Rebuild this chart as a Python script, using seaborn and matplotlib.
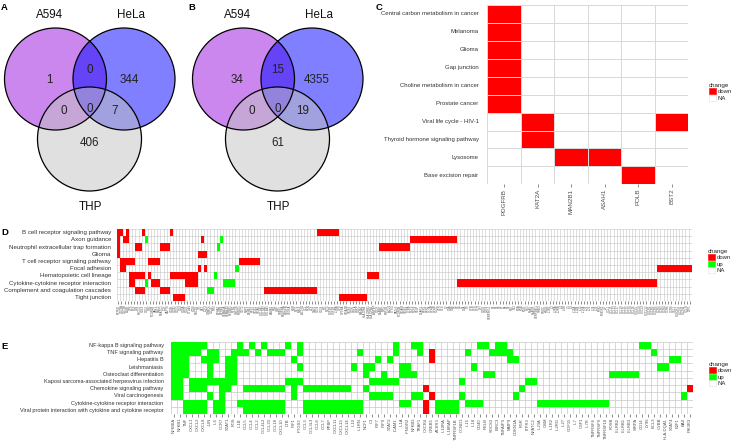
import numpy as np
import pandas as pd
import matplotlib
matplotlib.use("Agg")
import matplotlib.pyplot as plt
import seaborn as sns
from matplotlib.colors import ListedColormap
from matplotlib.patches import Circle, Patch

# ---------------- data ----------------
venn_names = ["A594", "HeLa", "THP"]
# region keys: A594 / HeLa / THP membership
venn_a = {"100": 1, "010": 344, "001": 406, "110": 0, "101": 0, "011": 7, "111": 0}
venn_b = {"100": 34, "010": 4355, "001": 61, "110": 15, "101": 0, "011": 19, "111": 0}

c_pathways = ["Central carbon metabolism in cancer", "Melanoma", "Glioma", "Gap junction",
              "Choline metabolism in cancer", "Prostate cancer", "Viral life cycle - HIV-1",
              "Thyroid hormone signaling pathway", "Lysosome", "Base excision repair"]
c_genes = ["PDGFRB", "KAT2A", "MAN2B1", "ASAH1", "POLB", "BST2"]
c_down = {
    "Central carbon metabolism in cancer": ["PDGFRB"],
    "Melanoma": ["PDGFRB"],
    "Glioma": ["PDGFRB"],
    "Gap junction": ["PDGFRB"],
    "Choline metabolism in cancer": ["PDGFRB"],
    "Prostate cancer": ["PDGFRB"],
    "Viral life cycle - HIV-1": ["KAT2A", "BST2"],
    "Thyroid hormone signaling pathway": ["KAT2A"],
    "Lysosome": ["MAN2B1", "ASAH1"],
    "Base excision repair": ["POLB"],
}

d_pathways = ["B cell receptor signaling pathway", "Axon guidance",
              "Neutrophil extracellular trap formation", "Glioma",
              "T cell receptor signaling pathway", "Focal adhesion",
              "Hematopoietic cell lineage", "Cytokine-cytokine receptor interaction",
              "Complement and coagulation cascades", "Tight junction"]
d_genes = [
    "PTPN6", "CD79A", "CD79B", "BLNK", "SYK", "BTK", "LYN", "PLCG2", "CD19", "CD22",
    "CR2", "FCGR2B", "VAV1", "RAC2", "NFATC1", "LCK", "ZAP70", "CD3E", "CD3D", "CD3G",
    "CD4", "CD8A", "CD28", "CTLA4", "ICOS", "PDCD1", "ITK", "LAT", "LCP2", "GRAP2",
    "CD247", "FYN", "EPHA2", "EPHB4", "SEMA3A", "SEMA4D", "PLXNB1", "NTN1", "UNC5B", "ROBO1",
    "SLIT2", "NRP1", "EFNB2", "PTK2", "ITGB1", "ITGA5", "COL1A1", "COL1A2", "COL4A1", "LAMB1",
    "FN1", "VWF", "THBS1", "PDGFRA", "PDGFB", "VEGFA", "KDR", "FLT1", "MYL9", "ACTN1",
    "VCL", "PXN", "ZYX", "CAV1", "CD34", "CD38", "KIT", "FLT3", "CSF3R", "CSF1R",
    "IL3RA", "GP9", "GP1BA", "ITGA2B", "ITGB3", "CD36", "CD1A", "CD1C", "MS4A1", "HLA-DRA",
    "HLA-DRB1", "HLA-DPA1", "ANPEP", "CD33", "ELANE", "MPO", "PRTN3", "AZU1", "CTSG", "PADI4",
    "FCGR3B", "ITGAM", "ITGB2", "CYBA", "NCF2", "NCF4", "SELP", "C5AR1", "FPR1", "FPR2",
    "C1QA", "C1QB", "C1QC", "C1R", "C1S", "C2", "C4A", "C4B", "C5", "C6",
    "C7", "C8A", "C9", "CFB", "CFD", "CFH", "CFI", "CD55", "CD59", "SERPING1",
    "F2", "F3", "F5", "F7", "F8", "F9", "F10", "F12", "FGA", "FGB",
    "FGG", "PLG", "PLAU", "PLAUR", "SERPINE1", "THBD", "PROC", "KNG1", "IL1R1", "IL2",
    "IL2RA", "IL2RB", "IL4", "IL4R", "IL5", "IL9", "IL12A", "IL12B", "IL13", "IL17A",
    "IL21", "IL22", "IL24", "IL26", "IFNG", "IFNGR1", "LIF", "CCL1", "CCL11", "CCL13",
    "CCL17", "CCL19", "CCL21", "CCL22", "CCL24", "CCL26", "CXCL5", "CXCL6", "CXCL9", "CXCL12",
    "CXCR1", "CXCR3", "CXCR5", "CCR2", "CCR3", "CCR4", "CCR6", "CCR8", "XCL1", "CX3CR1",
    "CLDN1", "CLDN4", "OCLN", "TJP1",
]
# runs of gene positions (first, last) per pathway
d_down = {
    "B cell receptor signaling pathway": [(0, 1), (3, 3), (8, 8), (17, 17), (64, 70)],
    "Axon guidance": [(0, 0), (2, 3), (27, 27), (94, 108)],
    "Neutrophil extracellular trap formation": [(0, 0), (6, 7), (14, 16), (84, 93)],
    "Glioma": [(0, 0), (26, 28)],
    "T cell receptor signaling pathway": [(1, 5), (10, 13), (39, 45)],
    "Focal adhesion": [(1, 2), (26, 26), (28, 28), (173, 183)],
    "Hematopoietic cell lineage": [(4, 8), (10, 10), (17, 25), (80, 83)],
    "Cytokine-cytokine receptor interaction": [(4, 5), (11, 13), (22, 25), (109, 172)],
    "Complement and coagulation cascades": [(6, 8), (14, 16), (47, 63)],
    "Tight junction": [(18, 21), (71, 79)],
}
d_up = {
    "Axon guidance": [(9, 9), (33, 33)],
    "Neutrophil extracellular trap formation": [(32, 32)],
    "Focal adhesion": [(38, 38)],
    "Hematopoietic cell lineage": [(31, 31)],
    "Cytokine-cytokine receptor interaction": [(9, 9), (34, 37)],
    "Complement and coagulation cascades": [(29, 30)],
}

e_pathways = ["NF-kappa B signaling pathway", "TNF signaling pathway", "Hepatitis B",
              "Leishmaniasis", "Osteoclast differentiation",
              "Kaposi sarcoma-associated herpesvirus infection",
              "Chemokine signaling pathway", "Viral carcinogenesis",
              "Cytokine-cytokine receptor interaction",
              "Viral protein interaction with cytokine and cytokine receptor"]
e_genes = [
    "NFKBIA", "NFKB1", "TNF", "CXCL1", "CXCL2", "CXCL8", "JUN", "IL6", "CCR7", "STAT1",
    "FOS", "IL1B", "CCL5", "CCL4", "CCL2", "CCL4L2", "CCL20", "CCL18", "CXCL10", "LTB",
    "IRF1", "PTGS2", "CCL3", "CCL3L3", "CCL8", "CCL7", "PPBP", "CXCL11", "CXCL13", "CXCL14",
    "IL10", "IL1RN", "NCF1", "C3", "IRF7", "IRF9", "STAT2", "ICAM1", "IL1A", "IFNGR2",
    "NFKB2", "TRAF1", "CXCR4", "CREB5", "ACKR3", "IL10RA", "IL18RAP", "TNFRSF1B", "CCND1", "IL15",
    "IL18", "CD40", "RELB", "SOCS3", "BIRC3", "TNFAIP3", "MMP9", "CDKN1A", "FGR", "ITPR3",
    "NFATC2", "IL23A", "OSM", "IL1R2", "IL2RG", "IL27", "GDF15", "IL7", "CSF1", "IL7R",
    "TNFRSF4", "TNFRSF9", "TNFRSF18", "FOSB", "LILRB2", "LILRB1", "LILRB3", "SIRPA", "CD14", "LY96",
    "BCL3", "CYBB", "HLA-DQA1", "STAT4", "E2F1", "BAX", "PIK3R3",
]
e_up = {
    "NF-kappa B signaling pathway": [(0, 5), (11, 11), (13, 13), (15, 15), (19, 19), (21, 21),
                                     (37, 37), (40, 41), (51, 52), (54, 55), (78, 79)],
    "TNF signaling pathway": [(0, 4), (6, 7), (10, 12), (14, 14), (16, 18), (21, 21), (31, 31),
                              (37, 37), (41, 41), (49, 49), (53, 56), (80, 80)],
    "Hepatitis B": [(0, 2), (5, 7), (9, 10), (20, 20), (34, 34), (36, 36), (56, 57), (83, 84)],
    "Leishmaniasis": [(0, 2), (6, 6), (9, 10), (21, 21), (30, 30), (32, 33), (38, 39),
                      (50, 50), (81, 82)],
    "Osteoclast differentiation": [(0, 2), (6, 6), (9, 10), (32, 32), (35, 35), (38, 40),
                                   (52, 53), (73, 77)],
    "Kaposi sarcoma-associated herpesvirus infection": [(0, 1), (3, 10), (19, 21), (33, 37),
                                                        (48, 48), (59, 60)],
    "Chemokine signaling pathway": [(0, 1), (3, 5), (8, 9), (12, 18), (20, 20), (22, 29),
                                    (32, 32), (58, 58)],
    "Viral carcinogenesis": [(0, 1), (6, 6), (8, 8), (20, 20), (33, 36), (40, 41), (48, 48),
                             (57, 57), (85, 85)],
    "Cytokine-cytokine receptor interaction": [(2, 5), (7, 8), (11, 18), (22, 31), (38, 39),
                                               (44, 47), (49, 51), (61, 72)],
    "Viral protein interaction with cytokine and cytokine receptor": [(2, 5), (7, 8), (12, 18),
                                                                      (22, 31), (44, 47)],
}
e_down = {
    "TNF signaling pathway": [(43, 43)],
    "Hepatitis B": [(43, 43)],
    "Chemokine signaling pathway": [(42, 42), (86, 86)],
    "Viral carcinogenesis": [(43, 43)],
    "Cytokine-cytokine receptor interaction": [(42, 42)],
    "Viral protein interaction with cytokine and cytokine receptor": [(42, 42)],
}

# ---------------- helpers ----------------
CODE = {"down": 0, "up": 1, "NA": 2}
tile_cmap = ListedColormap(["#ff0000", "#00ff00", "#ffffff"])


def run_matrix(pathways, genes, down, up):
    m = pd.DataFrame(float(CODE["NA"]), index=pathways, columns=range(len(genes)))
    for state, runs_by_path in (("down", down), ("up", up)):
        for p, runs in runs_by_path.items():
            r = pathways.index(p)
            for a, b in runs:
                m.iloc[r, a:b + 1] = CODE[state]
    return m


sns.set_style("white")
plt.rcParams["font.family"] = ["Liberation Sans", "DejaVu Sans"]

W, H = 736, 444
fig = plt.figure(figsize=(W / 100, H / 100), dpi=100)


def px_axes(x0, y0, x1, y1):
    return fig.add_axes([x0 / W, 1 - y1 / H, (x1 - x0) / W, (y1 - y0) / H])


def tile_panel(ax, m, genes, lw, lcol, ylab_size, xlab_size, ypad, xpad, grid_under=False):
    if grid_under:
        # NA tiles left empty, grid drawn underneath so filled runs stay solid
        data = m.where(m != CODE["NA"])
        n_r, n_c = m.shape
        ax.vlines(np.arange(n_c + 1), 0, n_r, color=lcol, linewidth=lw, zorder=0.5)
        ax.hlines(np.arange(n_r + 1), 0, n_c, color=lcol, linewidth=lw, zorder=0.5)
        sns.heatmap(data, ax=ax, cmap=tile_cmap, vmin=-0.5, vmax=2.5, cbar=False,
                    xticklabels=genes, yticklabels=list(m.index))
    else:
        sns.heatmap(m, ax=ax, cmap=tile_cmap, vmin=-0.5, vmax=2.5, cbar=False,
                    linewidths=lw, linecolor=lcol,
                    xticklabels=genes, yticklabels=list(m.index))
    ax.set_xlabel("")
    ax.set_ylabel("")
    ax.tick_params(axis="x", bottom=True, length=2, width=0.4, color="#333333",
                   labelsize=xlab_size, labelcolor="#4d4d4d", labelrotation=90, pad=xpad)
    ax.tick_params(axis="y", left=False, length=0, labelsize=ylab_size,
                   labelcolor="#333333", labelrotation=0, pad=ypad)


def add_legend(states, x_px, y_px):
    colors = {"down": "#ff0000", "up": "#00ff00", "NA": "#ffffff"}
    handles = [Patch(facecolor=colors[s], edgecolor="#e0e0e0" if s == "NA" else colors[s],
                     linewidth=0.4, label=s) for s in states]
    fig.legend(handles=handles, title="change", loc="upper left",
               bbox_to_anchor=(x_px / W, 1 - y_px / H), bbox_transform=fig.transFigure,
               frameon=False, fontsize=4.3, title_fontsize=4.5, alignment="left",
               handlelength=1.1, handleheight=1.2, handletextpad=0.3,
               labelspacing=0.05, borderpad=0, borderaxespad=0)


# ---------------- Venn diagrams A and B ----------------
ax_v = px_axes(0, 0, 375, 222)
ax_v.set_xlim(0, 375)
ax_v.set_ylim(222, 0)
ax_v.axis("off")

circle_geom = [(55.5, 79, 51), (124, 79, 51), (89.5, 139, 52)]
circle_cols = ["#9911dd", "#0000ff", "#c3c3c3"]
name_pos = [(49.5, 15), (131, 15), (90, 207)]
region_pos = {"100": (49, 80), "110": (90, 70), "010": (129, 80), "111": (90, 109),
              "101": (64, 111), "011": (115, 111), "001": (89.5, 143)}

for ox, counts in ((0, venn_a), (188, venn_b)):
    for (cx, cy, r), col in zip(circle_geom, circle_cols):
        ax_v.add_patch(Circle((ox + cx, cy), r, facecolor=col, alpha=0.5, edgecolor="none"))
    for cx, cy, r in circle_geom:
        ax_v.add_patch(Circle((ox + cx, cy), r, fill=False, edgecolor="black", linewidth=0.9))
    for name, (tx, ty) in zip(venn_names, name_pos):
        ax_v.text(ox + tx, ty, name, ha="center", va="center", fontsize=8.4, color="#111111")
    for key, (tx, ty) in region_pos.items():
        ax_v.text(ox + tx, ty, str(counts[key]), ha="center", va="center",
                  fontsize=8.4, color="#222222")

# ---------------- panel C ----------------
c_mat = pd.DataFrame(float(CODE["NA"]), index=c_pathways, columns=c_genes)
for p, genes in c_down.items():
    for g in genes:
        c_mat.loc[p, g] = CODE["down"]
ax_c = px_axes(487.3, 5, 688.3, 184.3)
tile_panel(ax_c, c_mat, c_genes, 0.5, "#d9d9d9", 4.3, 4.5, 6.3, 1.2)
add_legend(["down", "NA"], 709, 83)

# ---------------- panel D ----------------
d_mat = run_matrix(d_pathways, d_genes, d_down, d_up)
ax_d = px_axes(116.7, 229, 691.7, 301)
tile_panel(ax_d, d_mat, d_genes, 0.4, "#c4c4c4", 4.4, 2.0, 4.0, 0.6, grid_under=True)
add_legend(["down", "up", "NA"], 708, 249)

# ---------------- panel E ----------------
e_mat = run_matrix(e_pathways, e_genes, e_down, e_up)
ax_e = px_axes(170.5, 341.7, 692.5, 414)
tile_panel(ax_e, e_mat, e_genes, 0.5, "#c8c8c8", 4.0, 3.0, 5.0, 0.8, grid_under=True)
add_legend(["down", "up", "NA"], 709, 362)

# panel letters
for letter, (lx, ly) in {"A": (1, 3), "B": (188, 3), "C": (376, 3),
                         "D": (1, 228), "E": (1, 342)}.items():
    fig.text(lx / W, 1 - ly / H, letter, ha="left", va="top", fontsize=6.8,
             fontweight="bold", color="black")

fig.savefig("out.png", dpi=100, facecolor="white")
